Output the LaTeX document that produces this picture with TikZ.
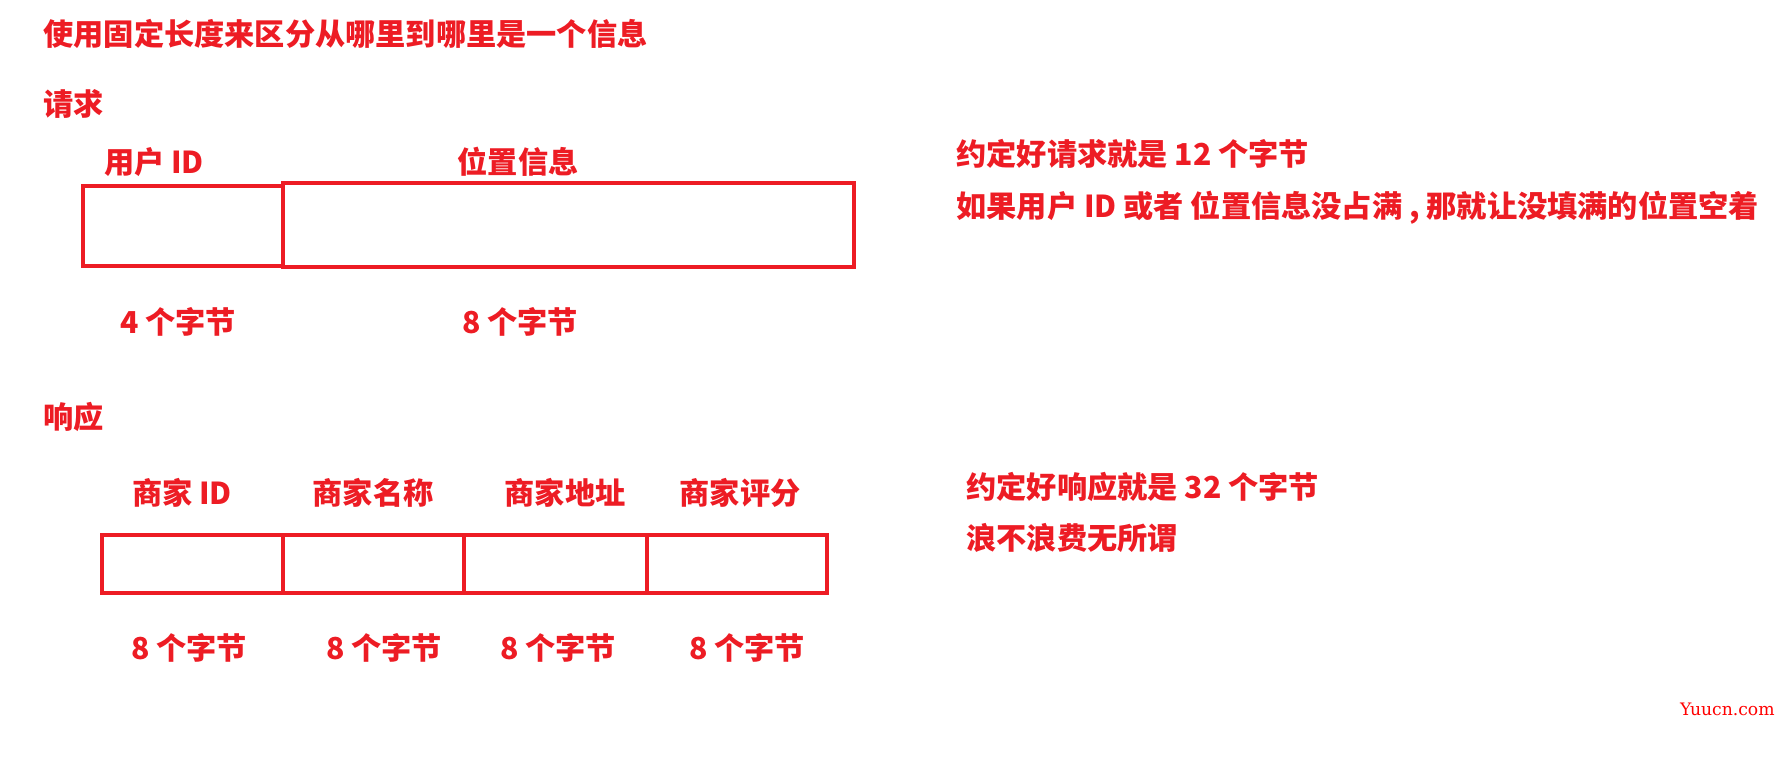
\documentclass[tikz,border=0pt]{standalone}
\usepackage{fontspec}
\newfontfamily\cjk{Noto Sans CJK SC}
\newfontfamily\wmfont{DejaVu Serif}
\usetikzlibrary{positioning}
\definecolor{paintred}{RGB}{237,28,36}
\tikzset{
  txt/.style={text=paintred, font=\cjk\bfseries\fontsize{15.1}{18}\selectfont, inner sep=0pt},
  lbl/.style={txt, anchor=west},
  cell/.style={draw=paintred, line width=2pt, inner sep=0pt, outer sep=0pt, anchor=north west},
}

\begin{document}
\begin{tikzpicture}[x=0.5pt, y=-0.5pt]
  \useasboundingbox (0,0) rectangle (1788,766);
  \node[lbl] (ttl) at (43,34) {使用固定长度来区分从哪里到哪里是一个信息};

  % request
  \node[lbl] (reqt) at (43,104) {请求};
  \node[cell, minimum width=100pt, minimum height=40pt] (uidbox) at (83,186) {};
  \node[cell, minimum width=285.5pt, minimum height=42pt] (posbox) at (283,183) {};
  \node[txt] (uidl) at (154,162) {用户 ID};
  \node[txt] (posl) at (518,162) {位置信息};
  \node[txt] (uidb) at (178,322) {4 个字节};
  \node[txt] (posb) at (520,322) {8 个字节};
  \node[lbl] (reqn1) at (956,154) {约定好请求就是 12 个字节};
  \node[lbl] (reqn2) at (956,208) {如果用户 ID 或者 位置信息没占满 , 那就让没填满的位置空着};

  % response
  \node[lbl] (rspt) at (43,417) {响应};
  \foreach \nm/\x/\w/\tx/\bx [count=\i] in {商家 ID/102/181/182/189, 商家名称/283/181/373/384, 商家地址/464/183/565/558, 商家评分/647/180/740/747} {
    \node[cell, minimum width=\w*0.5pt, minimum height=29pt] (rc\i) at (\x,535) {};
    \node[txt] (rt\i) at (\tx,493) {\nm};
    \node[txt] (rb\i) at (\bx,648) {8 个字节};
  }
  \node[lbl] (rspn1) at (966,487) {约定好响应就是 32 个字节};
  \node[lbl] (rspn2) at (966,538) {浪不浪费无所谓};

  \node[text=red, font=\wmfont\fontsize{8.6}{10}\selectfont, inner sep=0pt, anchor=east] (wm) at (1775,709) {Yuucn.com};
\end{tikzpicture}
\end{document}
